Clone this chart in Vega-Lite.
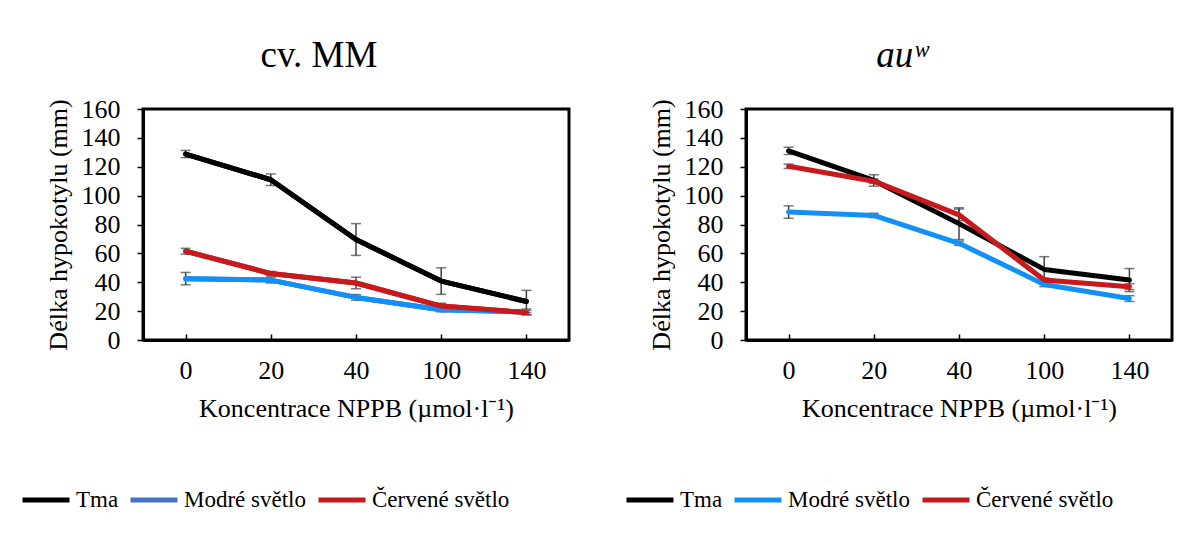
{
  "$schema": "https://vega.github.io/schema/vega-lite/v6.json",
  "padding": {"left": 18, "top": 35, "right": 0, "bottom": 0},
  "autosize": {"type": "pad"},
  "background": "white",
  "config": {
    "font": "Liberation Serif",
    "view": {"stroke": "black", "strokeWidth": 3},
    "axis": {
      "labelFont": "Liberation Serif", "titleFont": "Liberation Serif",
      "labelFontSize": 26, "titleFontSize": 26, "labelColor": "black", "titleColor": "black",
      "titleFontWeight": "normal", "grid": false, "domainColor": "black", "domainWidth": 3,
      "tickColor": "black", "tickWidth": 1.5
    },
    "title": {"font": "Liberation Serif", "fontSize": 37, "fontWeight": "normal", "color": "black", "offset": 21},
    "legend": {
      "labelFont": "Liberation Serif", "labelFontSize": 23, "labelColor": "black",
      "symbolType": "stroke", "symbolStrokeWidth": 5, "symbolSize": 2209,
      "columnPadding": 1, "labelOffset": 4, "title": null, "orient": "none", "direction": "horizontal",
      "gridAlign": "none"
    },
    "concat": {"spacing": 51}
  },
  "datasets": {
    "mm": [
      {"serie": "Tma", "conc": 0, "mean": 128.8, "err": 2.5},
      {"serie": "Tma", "conc": 20, "mean": 111, "err": 4},
      {"serie": "Tma", "conc": 40, "mean": 69.6, "err": 11},
      {"serie": "Tma", "conc": 100, "mean": 40.8, "err": 9.2},
      {"serie": "Tma", "conc": 140, "mean": 26.7, "err": 7.7},
      {"serie": "Modré světlo", "conc": 0, "mean": 42.5, "err": 4.3},
      {"serie": "Modré světlo", "conc": 20, "mean": 41.5, "err": 2},
      {"serie": "Modré světlo", "conc": 40, "mean": 29.5, "err": 2},
      {"serie": "Modré světlo", "conc": 100, "mean": 21, "err": 1.5},
      {"serie": "Modré světlo", "conc": 140, "mean": 19.5, "err": 2},
      {"serie": "Červené světlo", "conc": 0, "mean": 61.5, "err": 2},
      {"serie": "Červené světlo", "conc": 20, "mean": 46, "err": 1.5},
      {"serie": "Červené světlo", "conc": 40, "mean": 39.5, "err": 4},
      {"serie": "Červené světlo", "conc": 100, "mean": 23.5, "err": 2},
      {"serie": "Červené světlo", "conc": 140, "mean": 19, "err": 1.5}
    ],
    "auw": [
      {"serie": "Tma", "conc": 0, "mean": 131, "err": 2.5},
      {"serie": "Tma", "conc": 20, "mean": 110.5, "err": 4},
      {"serie": "Tma", "conc": 40, "mean": 80.6, "err": 11},
      {"serie": "Tma", "conc": 100, "mean": 48.9, "err": 8.8},
      {"serie": "Tma", "conc": 140, "mean": 41.5, "err": 8},
      {"serie": "Modré světlo", "conc": 0, "mean": 88.6, "err": 4.3},
      {"serie": "Modré světlo", "conc": 20, "mean": 86.3, "err": 1.5},
      {"serie": "Modré světlo", "conc": 40, "mean": 67, "err": 1.5},
      {"serie": "Modré světlo", "conc": 100, "mean": 38.5, "err": 1.5},
      {"serie": "Modré světlo", "conc": 140, "mean": 28.7, "err": 2},
      {"serie": "Červené světlo", "conc": 0, "mean": 120.3, "err": 1.5},
      {"serie": "Červené světlo", "conc": 20, "mean": 110, "err": 1.5},
      {"serie": "Červené světlo", "conc": 40, "mean": 86.7, "err": 4},
      {"serie": "Červené světlo", "conc": 100, "mean": 41.5, "err": 1.5},
      {"serie": "Červené světlo", "conc": 140, "mean": 36.9, "err": 2}
    ]
  },
  "resolve": {"scale": {"color": "independent", "stroke": "independent"}, "legend": {"color": "independent"}},
  "hconcat": [
    {
      "title": {"text": "cv. MM", "dx": -37},
      "width": 426, "height": 231,
      "data": {"name": "mm"},
      "encoding": {
        "x": {"field": "conc", "type": "ordinal", "scale": {"type": "point", "padding": 0.5},
          "axis": {"title": "Koncentrace NPPB (µmol·l⁻¹)", "labelAngle": 0, "tickSize": -6, "labelPadding": 23, "titlePadding": 12}},
        "y": {"field": "mean", "type": "quantitative", "scale": {"domain": [0, 160], "nice": false},
          "axis": {"title": "Délka hypokotylu (mm)", "values": [0, 20, 40, 60, 80, 100, 120, 140, 160], "tickSize": 6, "labelPadding": 17, "titlePadding": 10}}
      },
      "layer": [
        {"mark": {"type": "errorbar", "ticks": true, "color": "#404040", "thickness": 1.5, "size": 10},
         "encoding": {"yError": {"field": "err"}, "detail": {"field": "serie"}}},
        {"mark": {"type": "line", "strokeWidth": 5, "strokeCap": "round", "strokeJoin": "round"},
         "encoding": {"color": {"field": "serie", "type": "nominal",
           "scale": {"domain": ["Tma", "Modré světlo", "Červené světlo"], "range": ["#000000", "#4472C4", "#C8191C"]},
           "legend": {"legendX": -123, "legendY": 365}}}},
        {"mark": {"type": "line", "strokeWidth": 5, "strokeCap": "round", "strokeJoin": "round"},
         "encoding": {"stroke": {"field": "serie", "type": "nominal",
           "scale": {"domain": ["Tma", "Modré světlo", "Červené světlo"], "range": ["#000000", "#1190F8", "#C8191C"]},
           "legend": null}}}
      ]
    },
    {
      "title": {"text": "auʷ", "dx": -57, "fontStyle": "italic"},
      "width": 426, "height": 231,
      "data": {"name": "auw"},
      "encoding": {
        "x": {"field": "conc", "type": "ordinal", "scale": {"type": "point", "padding": 0.5},
          "axis": {"title": "Koncentrace NPPB (µmol·l⁻¹)", "labelAngle": 0, "tickSize": -6, "labelPadding": 23, "titlePadding": 12}},
        "y": {"field": "mean", "type": "quantitative", "scale": {"domain": [0, 160], "nice": false},
          "axis": {"title": "Délka hypokotylu (mm)", "values": [0, 20, 40, 60, 80, 100, 120, 140, 160], "tickSize": 6, "labelPadding": 17, "titlePadding": 10}}
      },
      "layer": [
        {"mark": {"type": "errorbar", "ticks": true, "color": "#404040", "thickness": 1.5, "size": 10},
         "encoding": {"yError": {"field": "err"}, "detail": {"field": "serie"}}},
        {"mark": {"type": "line", "strokeWidth": 5, "strokeCap": "round", "strokeJoin": "round"},
         "encoding": {"color": {"field": "serie", "type": "nominal",
           "scale": {"domain": ["Tma", "Modré světlo", "Červené světlo"], "range": ["#000000", "#1190F8", "#C8191C"]},
           "legend": {"legendX": -122, "legendY": 365}}}}
      ]
    }
  ]
}
